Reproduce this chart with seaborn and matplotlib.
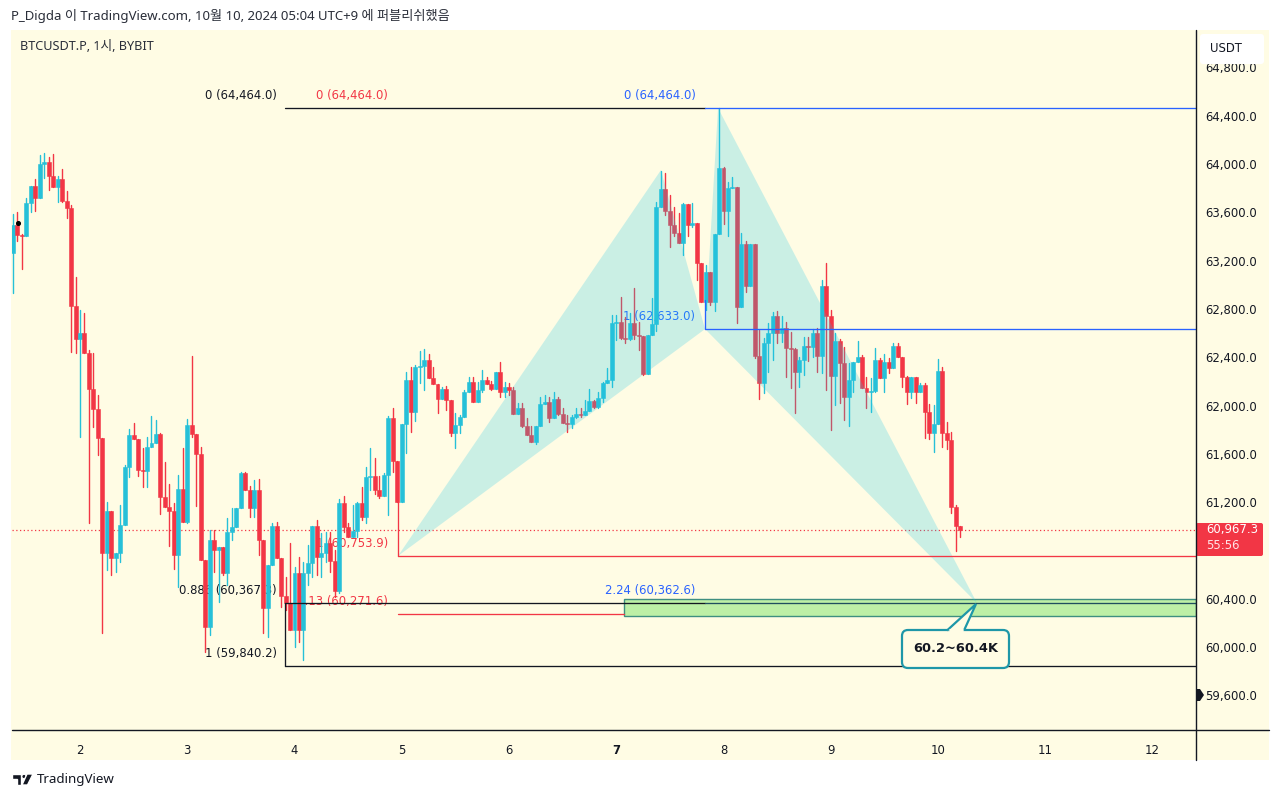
import pandas as pd
import matplotlib.pyplot as plt
import seaborn as sns
from matplotlib.patches import FancyBboxPatch, Polygon, Rectangle, Circle

# hourly candles, first one starts 15 hours before day 2
first_open = 63265
hours_before_day2 = 15
closes = [
    63494, 63411, 63403, 63676, 63817, 63718, 63999, 64016, 63900, 63809,
    63875, 63693, 63635, 62823, 62550, 62600, 62434, 62136, 61971, 61731,
    60778, 61126, 60737, 60778, 61010, 61490, 61755, 61722, 61466, 61457,
    61656, 61689, 61764, 61242, 61159, 61126, 60762, 61308, 61035, 61838,
    61764, 61598, 60720, 60166, 60886, 60803, 60828, 60613, 60952, 60994,
    61151, 61441, 61300, 61151, 61300, 60886, 60323, 60679, 61002, 60737,
    60422, 60364, 60141, 60613, 60141, 60613, 60696, 61002, 60745, 60778,
    60861, 60712, 60464, 61192, 60994, 60911, 60960, 61192, 61076, 61408,
    61416, 61300, 61250, 61424, 61896, 61540, 61201, 61846, 62211, 61946,
    62318, 62327, 62376, 62227, 62178, 62053, 62136, 62045, 61772, 61838,
    61904, 62111, 62194, 62029, 62128, 62211, 62178, 62136, 62277, 62111,
    62153, 62128, 61929, 61979, 61830, 61755, 61697, 61830, 62012, 62029,
    61896, 62053, 61929, 61855, 61847, 61904, 61929, 61921, 61954, 62037,
    61987, 62062, 62186, 62211, 62683, 62691, 62558, 62550, 62683, 62583,
    62575, 62260, 62583, 62674, 63643, 63792, 63610, 63494, 63428, 63345,
    63668, 63494, 63511, 63180, 62857, 63105, 62857, 63420, 63966, 63610,
    63800, 63809, 62815, 63337, 62989, 63337, 62409, 62186, 62517, 62600,
    62741, 62600, 62641, 62476, 62467, 62277, 62376, 62492, 62484, 62600,
    62409, 62989, 62741, 62244, 62534, 62352, 62070, 62211, 62360, 62401,
    62145, 62111, 62120, 62376, 62227, 62360, 62310, 62492, 62401, 62236,
    62111, 62236, 62111, 62169, 61946, 61772, 61846, 62285, 61772, 61714,
    61159, 61002, 60967.3,
]
highs = [
    63585, 63602, 63420, 63718, 63817, 63875, 64074, 64090, 64057, 64082,
    63900, 63958, 63776, 63660, 63064, 62790, 62766, 62459, 62434, 62087,
    61731, 61201, 61126, 60778, 61176, 61507, 61805, 61855, 61722, 61648,
    61739, 61913, 61880, 61772, 61532, 61350, 61192, 61424, 61648, 61888,
    62409, 61764, 61656, 60720, 60969, 60969, 60828, 60828, 61068, 61151,
    61151, 61449, 61449, 61333, 61383, 61391, 60886, 60679, 61027, 61035,
    60737, 60580, 60861, 60662, 60745, 60704, 60845, 61002, 61052, 60944,
    60952, 60952, 60803, 61225, 61250, 61027, 61176, 61201, 61325, 61490,
    61648, 61565, 61416, 61441, 61913, 61979, 61540, 61846, 62277, 62318,
    62335, 62451, 62467, 62426, 62318, 62178, 62153, 62161, 62045, 61938,
    61921, 62128, 62236, 62236, 62194, 62294, 62236, 62203, 62277, 62360,
    62194, 62186, 62153, 62020, 62020, 61896, 61830, 61830, 62070, 62087,
    62070, 62111, 62070, 61979, 61921, 61921, 61979, 61979, 62045, 62136,
    62045, 62111, 62194, 62310, 62749, 62749, 62898, 62732, 62766, 62973,
    62691, 62575, 62583, 62890, 63685, 63941, 63925, 63743, 63643, 63594,
    63676, 63668, 63676, 63511, 63180, 63163, 63105, 63420, 64464, 63974,
    63850, 63892, 63809, 63428, 63362, 63337, 63337, 62625, 62559, 62683,
    62774, 62782, 62741, 62691, 62608, 62476, 62401, 62567, 62567, 62633,
    62641, 63039, 63180, 62790, 62600, 62550, 62484, 62352, 62360, 62534,
    62418, 62236, 62227, 62476, 62393, 62426, 62393, 62517, 62517, 62401,
    62244, 62236, 62236, 62186, 62186, 62012, 62004, 62385, 62318, 61863,
    61780, 61176, 61002,
]
lows = [
    62931, 63362, 63130, 63403, 63602, 63610, 63718, 63883, 63784, 63809,
    63685, 63685, 63552, 62443, 62434, 61739, 62434, 61027, 61822, 61590,
    60116, 60638, 60596, 60621, 60704, 61010, 61408, 61722, 61416, 61325,
    61325, 61656, 61689, 61101, 61159, 60836, 60646, 60497, 61035, 61027,
    61739, 61167, 60720, 59959, 60099, 60621, 60373, 60596, 60513, 60886,
    60994, 61151, 61300, 61076, 61076, 60762, 60116, 60083, 60679, 60737,
    60331, 60306, 60141, 60000, 60041, 59892, 60513, 60580, 60596, 60580,
    60704, 60621, 60414, 60447, 60952, 60911, 60911, 60911, 61052, 61027,
    61300, 61267, 61234, 61250, 61093, 61449, 61201, 61201, 61606, 61780,
    61871, 62186, 62128, 62227, 62178, 61937, 62053, 61962, 61747, 61648,
    61772, 61904, 62111, 62029, 62029, 62111, 62178, 62128, 62136, 62070,
    62070, 62087, 61929, 61929, 61822, 61755, 61697, 61681, 61830, 62012,
    61863, 61896, 61921, 61855, 61780, 61813, 61896, 61904, 61921, 61954,
    61979, 61979, 62029, 62186, 62153, 62542, 62550, 62517, 62542, 62550,
    62459, 62252, 62260, 62583, 62617, 63643, 63577, 63312, 63403, 63345,
    63246, 63403, 63478, 63039, 62857, 62790, 62832, 62782, 63420, 63502,
    63403, 63800, 62683, 62815, 62939, 62989, 62393, 62053, 62103, 62277,
    62376, 62517, 62525, 62236, 62145, 61938, 62153, 62252, 62368, 62401,
    62277, 62269, 62128, 61797, 62004, 62020, 61880, 61830, 62111, 62360,
    62145, 61979, 61946, 62111, 62227, 62111, 62269, 62310, 62401, 62153,
    62012, 62062, 62020, 62111, 61731, 61722, 61615, 61846, 61656, 61639,
    61110, 60795, 60911,
]

# drawn levels and the harmonic pattern, x in days of October
day_ticks = [2, 3, 4, 5, 6, 7, 8, 9, 10, 11, 12]
# 60,800 sits behind the last price box in the reference, so it is left out
price_ticks = [59600, 60000, 60400, 61200, 61600, 62000, 62400, 62800, 63200, 63600, 64000, 64400, 64800]
last_price = 60967.3
pattern_days = [4.965, 7.417, 7.828, 7.949, 10.364]
pattern_prices = [60753.9, 63950, 62633.0, 64464.0, 60362.6]
zone_prices = [60260, 60400]
zone_start = 7.072
fib_start = 3.911
red_start = 4.965
blue_start = 7.828

CREAM = '#FFFCE4'
TEAL = '#26C0D8'
RED = '#F23645'
BLUE = '#2962FF'
INK = '#131722'
LABEL_FONT = ['DejaVu Sans']
TEXT_FONT = ['Noto Sans', 'Noto Sans CJK KR', 'DejaVu Sans']

W, H = 1280, 799
LEFT, RIGHT, TOP, BOTTOM = 12, 1196, 30, 730
PX_DAY = 107.25
PX_PRICE = 0.12075


def build_candles():
    df = pd.DataFrame({'close': closes, 'high': highs, 'low': lows})
    df['open'] = df['close'].shift(1).fillna(first_open)
    df['day'] = 2 + (df.index - hours_before_day2) / 24
    df['up'] = df['close'] >= df['open']
    df['candle'] = df.index
    return df


def draw_candles(ax, df):
    # wicks as one lineplot with a unit per candle
    wicks = df.melt(id_vars=['candle', 'day', 'up'], value_vars=['high', 'low'], value_name='price')
    sns.lineplot(data=wicks, x='day', y='price', units='candle', hue='up', estimator=None,
                 palette={True: TEAL, False: RED}, linewidth=1.0, legend=False, ax=ax, zorder=3)
    bottom = df[['open', 'close']].min(axis=1)
    height = (df['close'] - df['open']).abs()
    colors = df['up'].map({True: TEAL, False: RED})
    ax.bar(df['day'], height, bottom=bottom, width=0.037, color=colors, edgecolor=colors,
           linewidth=0.4, zorder=3)


def draw_pattern(ax):
    tint = (30 / 255, 200 / 255, 230 / 255, 0.23)
    for a, b, c in [(0, 1, 2), (2, 3, 4)]:
        pts = [(pattern_days[i], pattern_prices[i]) for i in (a, b, c)]
        ax.add_patch(Polygon(pts, closed=True, facecolor=tint, edgecolor='none', zorder=4))


def draw_fibs(ax, x_end):
    zone = Rectangle((zone_start, zone_prices[0]), x_end - zone_start, zone_prices[1] - zone_prices[0],
                     facecolor='#BDEFA6', edgecolor='#3E8F80', linewidth=1.0, zorder=2)
    ax.add_patch(zone)
    segments = [
        ([fib_start, blue_start], [64464.0, 64464.0], INK),
        ([fib_start, blue_start], [60367.3, 60367.3], INK),
        ([fib_start, x_end], [59840.2, 59840.2], INK),
        ([fib_start, fib_start], [60367.3, 59840.2], INK),
        ([red_start, x_end], [60753.9, 60753.9], RED),
        ([red_start, red_start], [61201, 60753.9], RED),
        ([red_start, zone_start], [60271.6, 60271.6], RED),
        ([blue_start, x_end], [64464.0, 64464.0], BLUE),
        ([blue_start, x_end], [62633.0, 62633.0], BLUE),
        ([blue_start, blue_start], [62633.0, 62870], BLUE),
        ([blue_start, x_end], [60362.6, 60362.6], '#1F4E5F'),
    ]
    for xs, ys, color in segments:
        sns.lineplot(x=xs, y=ys, sort=False, estimator=None, color=color, linewidth=0.95, ax=ax, zorder=5)

    labels = [
        (3.837, 64570, '0 (64,464.0)', INK),
        (3.837, 60470, '0.886 (60,367.3)', INK),
        (3.837, 59945, '1 (59,840.2)', INK),
        (4.872, 64570, '0 (64,464.0)', RED),
        (4.872, 60855, '1 (60,753.9)', RED),
        (4.872, 60380, '1.13 (60,271.6)', RED),
        (7.738, 64570, '0 (64,464.0)', BLUE),
        (7.738, 62740, '1 (62,633.0)', BLUE),
        (7.738, 60470, '2.24 (60,362.6)', BLUE),
    ]
    for x, y, s, color in labels:
        ax.text(x, y, s, color=color, ha='right', va='center', fontsize=8.4,
                family=LABEL_FONT, zorder=1)


def draw_chrome(fig):
    # everything that is not tied to the price scale, in figure pixels
    over = fig.add_axes([0, 0, 1, 1], zorder=10)
    over.set_xlim(0, W)
    over.set_ylim(H, 0)
    over.axis('off')
    over.patch.set_alpha(0)

    over.plot([RIGHT, RIGHT], [TOP, 760], color=INK, lw=1.0)
    over.plot([LEFT, 1269], [BOTTOM, BOTTOM], color=INK, lw=1.0)

    over.text(11, 16, 'P_Digda 이 TradingView.com, 10월 10, 2024 05:04 UTC+9 에 퍼블리쉬했음',
              fontsize=9.5, color='#2A2E39', va='center', family=TEXT_FONT)
    over.text(20, 46.5, 'BTCUSDT.P, 1시, BYBIT', fontsize=9.1, color='#2A2E39', va='center', family=TEXT_FONT)

    over.add_patch(FancyBboxPatch((1203, 37), 58, 24, boxstyle='round,pad=3', facecolor='white', edgecolor='none'))
    over.text(1210, 48.5, 'USDT', fontsize=8.4, color=INK, va='center', family=LABEL_FONT)

    over.add_patch(FancyBboxPatch((1198, 525), 63, 29, boxstyle='round,pad=2', facecolor=RED, edgecolor='none'))
    over.text(1206, 530, f'{last_price:,.1f}', fontsize=8.4, color='white', va='center', family=LABEL_FONT)
    over.text(1206, 545.5, '55:56', fontsize=8.4, color='#FFE3E6', va='center', family=LABEL_FONT)

    over.add_patch(Polygon([(1196, 689), (1200, 689), (1204, 695), (1200, 701), (1196, 701)], facecolor=INK, edgecolor='none'))

    # callout
    over.add_patch(FancyBboxPatch((908, 636), 95, 26, boxstyle='round,pad=6', facecolor=CREAM,
                                  edgecolor='#1E97A8', linewidth=1.6))
    over.add_patch(Polygon([(947, 630.5), (976, 604), (964, 630.5)], closed=False, facecolor=CREAM,
                           edgecolor='#1E97A8', linewidth=1.6, joinstyle='miter'))
    over.plot([948.5, 962.5], [630, 630], color=CREAM, lw=2.2, solid_capstyle='butt')
    over.text(955.5, 649, '60.2~60.4K', fontsize=9.4, fontweight='bold', color=INK, ha='center', va='center',
              family=LABEL_FONT)

    # source mark
    over.add_patch(Polygon([(12, 774), (21, 774), (21, 785), (16.5, 785), (16.5, 778.5), (12, 778.5)], facecolor=INK))
    over.add_patch(Circle((24, 776.5), 2.3, facecolor=INK))
    over.add_patch(Polygon([(27, 774), (33, 774), (27.5, 785), (22, 785)], facecolor=INK))
    over.text(37, 779.5, 'TradingView', fontsize=9.6, color=INK, va='center', family=TEXT_FONT)
    over.scatter([17.7], [222.7], s=7, color='black', zorder=6)


def main():
    sns.set_theme(style='white')
    plt.rcParams['font.family'] = TEXT_FONT

    df = build_candles()

    fig = plt.figure(figsize=(W / 100, H / 100), dpi=100, facecolor='white')
    fig.add_artist(Rectangle((11 / W, 1 - 760 / H), 1258 / W, 730 / H, transform=fig.transFigure,
                             facecolor=CREAM, edgecolor='none', zorder=-1))
    ax = fig.add_axes([LEFT / W, 1 - BOTTOM / H, (RIGHT - LEFT) / W, (BOTTOM - TOP) / H], facecolor=CREAM)

    x_left = 2 + (LEFT - 80) / PX_DAY
    x_right = 2 + (RIGHT - 80) / PX_DAY
    ax.set_xlim(x_left, x_right)
    ax.set_ylim(60000 + (647 - BOTTOM) / PX_PRICE, 60000 + (647 - TOP) / PX_PRICE)

    ax.axhline(last_price, color=RED, lw=0.9, ls=(0, (1, 2)), zorder=2)
    draw_fibs(ax, x_right)
    draw_candles(ax, df)
    draw_pattern(ax)

    ax.set_xlabel('')
    ax.set_ylabel('')
    ax.yaxis.tick_right()
    ax.set_yticks(price_ticks, [f'{p:,.1f}' for p in price_ticks], family=LABEL_FONT)
    ax.set_xticks(day_ticks, [str(d) for d in day_ticks], family=LABEL_FONT)
    ax.tick_params(axis='y', length=0, pad=6.5, labelsize=8.4, labelcolor=INK)
    ax.tick_params(axis='x', length=0, pad=10, labelsize=8.4, labelcolor=INK)
    for label in ax.get_xticklabels():
        if label.get_text() == '7':
            label.set_fontweight('bold')
    for spine in ax.spines.values():
        spine.set_visible(False)

    draw_chrome(fig)
    fig.savefig('out.png', dpi=100)


main()
